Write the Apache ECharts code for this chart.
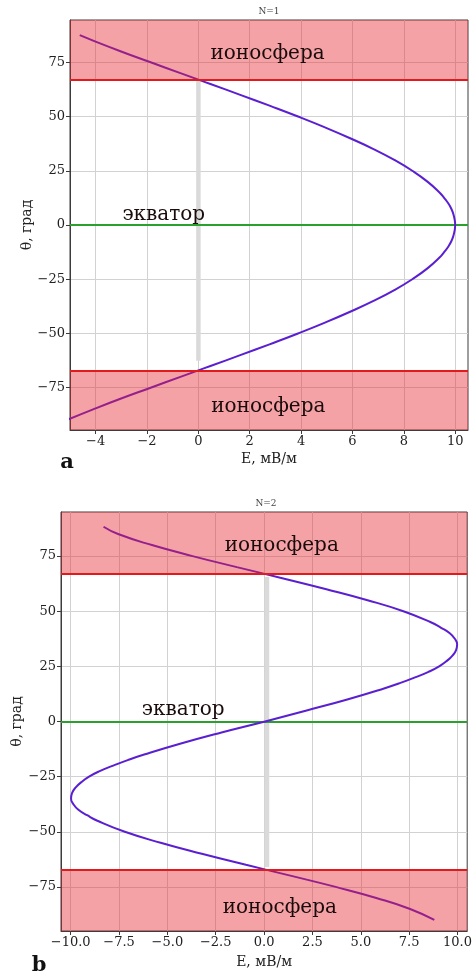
<!DOCTYPE html>
<html><head><meta charset="utf-8">
<script src="https://cdn.jsdelivr.net/npm/echarts@6/dist/echarts.min.js"></script>
<style>html,body{margin:0;padding:0;background:#fff}#c{width:475px;height:974px}</style>
</head><body><div id="c"></div>
<script>
// ---- panel a (N=1) ----
const thetaA = [87.5, 85, 80, 75, 70, 67, 65, 60, 55, 50, 45, 40, 35, 30, 25, 20, 15, 12.5, 10, 7.5, 5, 2.5, 0,
  -2.5, -5, -7.5, -10, -12.5, -15, -20, -25, -30, -35, -40, -45, -50, -55, -60, -65, -67, -70, -75, -80, -85, -90];
const eA = [-4.62, -4.10, -3.01, -1.86, -0.70, 0, 0.47, 1.63, 2.77, 3.88, 4.93, 5.91, 6.82, 7.63, 8.33, 8.92, 9.39, 9.57, 9.73, 9.85, 9.93, 9.98, 10.0,
  9.98, 9.93, 9.85, 9.73, 9.57, 9.39, 8.92, 8.33, 7.63, 6.82, 5.91, 4.93, 3.88, 2.77, 1.63, 0.47, 0, -0.70, -1.86, -3.01, -4.10, -5.14];
// ---- panel b (N=2) ----
const thetaB = [88.3, 85, 80, 75, 70, 65, 60, 55, 50, 45, 42.5, 40, 37.5, 35, 32.5, 30, 27.5, 25, 22.5, 20, 17.5, 15, 10, 5, 0,
  -5, -10, -15, -17.5, -20, -22.5, -25, -27.5, -30, -32.5, -35, -37.5, -40, -42.5, -45, -50, -55, -60, -65, -70, -75, -80, -85, -90];
const eB = [-8.3, -7.55, -5.8, -3.7, -1.41, 0.94, 3.22, 5.35, 7.2, 8.62, 9.15, 9.6, 9.86, 9.98, 9.93, 9.75, 9.45, 9.05, 8.5, 7.8, 7.05, 6.2, 4.3, 2.2, 0.05,
  -2.2, -4.3, -6.2, -7.05, -7.8, -8.5, -9.05, -9.45, -9.75, -9.93, -9.98, -9.86, -9.6, -9.15, -8.62, -7.2, -5.35, -3.22, -0.94, 1.41, 3.7, 5.8, 7.55, 8.8];

const ticksEA = [-4, -2, 0, 2, 4, 6, 8, 10];
const ticksEB = [-10, -7.5, -5, -2.5, 0, 2.5, 5, 7.5, 10];
const ticksTheta = [-75, -50, -25, 0, 25, 50, 75];
const ionoBoundary = 67;      // θ of ionosphere boundary
const equator = 0;
const rangeEA = [-5, 10.5];
const rangeEB = [-10.5, 10.5];
const rangeThetaA = [-94.5, 94.5];
const rangeThetaB = [-95, 95];
const zeroBarA = [[0, 67], [0, -62.6]];
const zeroBarB = [[0.15, 65.5], [0.15, -66]];
const labelsA = [
  {text: 'ионосфера', at: [0.47, 78.9]},
  {text: 'ионосфера', at: [0.5, -84.0]},
  {text: 'экватор', at: [-2.96, 4.9]}
];
const labelsB = [
  {text: 'ионосфера', at: [-2.04, 79.7]},
  {text: 'ионосфера', at: [-2.14, -84.3]},
  {text: 'экватор', at: [-6.32, 5.3]}
];
const titles = ['N=1', 'N=2'];

const FONT = 'DejaVu Serif';
const minus = s => String(s).replace('-', '\u2212');

function xAxis(gi, range, ticks, fmt, gap) {
  return {
    type: 'value', gridIndex: gi, min: range[0], max: range[1],
    name: 'E, мВ/м', nameLocation: 'middle', nameGap: gap, nameMoveOverlap: false,
    nameTextStyle: {fontFamily: FONT, fontSize: 14, color: '#222'},
    axisLine: {show: true, onZero: false, lineStyle: {color: '#3c3c3c', width: 1}},
    axisTick: {show: true, length: 4, customValues: ticks, lineStyle: {color: '#3c3c3c'}},
    axisLabel: {customValues: ticks, formatter: fmt, fontFamily: FONT, fontSize: 13, color: '#222', margin: 5},
    splitLine: {show: true, lineStyle: {color: '#d2d2d2', width: 1}}
  };
}
function yAxis(gi, range, gap) {
  return {
    type: 'value', gridIndex: gi, min: range[0], max: range[1],
    name: 'θ, град', nameLocation: 'middle', nameGap: gap, nameRotate: 90, nameMoveOverlap: false,
    nameTextStyle: {fontFamily: FONT, fontSize: 14, color: '#222'},
    axisLine: {show: true, onZero: false, lineStyle: {color: '#3c3c3c', width: 1}},
    axisTick: {show: true, length: 4, customValues: ticksTheta, lineStyle: {color: '#3c3c3c'}},
    axisLabel: {customValues: ticksTheta, formatter: v => minus(v), fontFamily: FONT, fontSize: 13, color: '#222', margin: 5},
    splitLine: {show: true, lineStyle: {color: '#d2d2d2', width: 1}}
  };
}

function panelSeries(gi, theta, e, zeroBar, labels, yr) {
  const curve = theta.map((t, i) => [e[i], t]);
  return [
    { // grey zero bar
      type: 'line', xAxisIndex: gi, yAxisIndex: gi, data: zeroBar, symbol: 'none', silent: true, z: 1,
      lineStyle: {color: '#dadada', width: 4.5}
    },
    { // equator
      type: 'line', xAxisIndex: gi, yAxisIndex: gi, data: [], silent: true, z: 2,
      markLine: {silent: true, symbol: 'none', z: 2, label: {show: false},
        lineStyle: {color: '#2ca02c', width: 2, type: 'solid'}, data: [{yAxis: equator}]}
    },
    { // field curve
      type: 'line', xAxisIndex: gi, yAxisIndex: gi, data: curve, symbol: 'none', smooth: 0.5,
      silent: true, z: 3, lineStyle: {color: '#5a1fd0', width: 2}
    },
    { // ionosphere bands + boundaries
      type: 'line', xAxisIndex: gi, yAxisIndex: gi, data: [], silent: true, z: 4,
      markArea: {silent: true, z: 4, itemStyle: {color: 'rgba(232,34,44,0.42)'},
        data: [[{yAxis: ionoBoundary}, {yAxis: yr[1]}], [{yAxis: yr[0]}, {yAxis: -ionoBoundary}]]},
      markLine: {silent: true, symbol: 'none', z: 5, label: {show: false},
        lineStyle: {color: '#e31a1c', width: 2, type: 'solid'},
        data: [{yAxis: ionoBoundary}, {yAxis: -ionoBoundary}]}
    },
    { // text labels
      type: 'scatter', xAxisIndex: gi, yAxisIndex: gi, silent: true, z: 6, symbolSize: 0,
      itemStyle: {color: '#000'},
      data: labels.map(l => ({value: l.at, name: l.text})),
      label: {show: true, position: 'inside', align: 'left', verticalAlign: 'middle',
        formatter: p => p.name, fontFamily: FONT, fontSize: 20, color: '#1a0c0c', opacity: 1}
    }
  ];
}

const chart = echarts.init(document.getElementById('c'), null, {renderer: 'canvas'});
chart.setOption({
  animation: false,
  backgroundColor: '#fff',
  grid: [
    {left: 70, top: 20, width: 398, height: 410, show: true, borderColor: '#3c3c3c', borderWidth: 1, backgroundColor: '#fff'},
    {left: 61, top: 512, width: 407, height: 419, show: true, borderColor: '#3c3c3c', borderWidth: 1, backgroundColor: '#fff'}
  ],
  xAxis: [
    xAxis(0, rangeEA, ticksEA, v => minus(v), 22),
    xAxis(1, rangeEB, ticksEB, v => minus(Number(v).toFixed(1)), 24)
  ],
  yAxis: [yAxis(0, rangeThetaA, 36), yAxis(1, rangeThetaB, 37)],
  graphic: [
    {type: 'text', x: 269, y: 12, style: {text: titles[0], font: '9px "DejaVu Serif"', fill: '#444', textAlign: 'center', textVerticalAlign: 'middle'}},
    {type: 'text', x: 266, y: 504, style: {text: titles[1], font: '9px "DejaVu Serif"', fill: '#444', textAlign: 'center', textVerticalAlign: 'middle'}},
    {type: 'text', x: 67, y: 463, style: {text: 'a', font: 'bold 21px "DejaVu Serif"', fill: '#111', textAlign: 'center', textVerticalAlign: 'middle'}},
    {type: 'text', x: 39, y: 966, style: {text: 'b', font: 'bold 21px "DejaVu Serif"', fill: '#111', textAlign: 'center', textVerticalAlign: 'middle'}}
  ],
  series: [
    ...panelSeries(0, thetaA, eA, zeroBarA, labelsA, rangeThetaA),
    ...panelSeries(1, thetaB, eB, zeroBarB, labelsB, rangeThetaB)
  ]
});
</script>
</body></html>
